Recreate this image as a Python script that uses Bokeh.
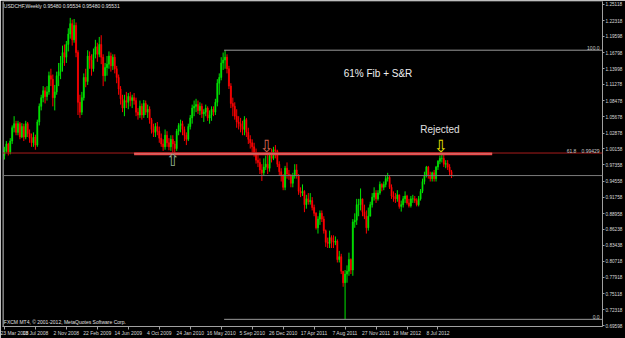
from bokeh.plotting import figure
from bokeh.models import (Range1d, LinearAxis, FixedTicker, Span, Label,
                          ColumnDataSource, NumeralTickFormatter)
from bokeh.core.properties import value
from bokeh.embed import file_html
from bokeh.resources import INLINE

# ---------------- data (USDCHF weekly, bar 0 = week of 23 Mar 2008) ----------------
header_text = "USDCHF,Weekly  0.95480 0.95534 0.95480 0.95531"
copyright_text = "FXCM MT4, \u00a9 2001-2012, MetaQuotes Software Corp."

first_open = 0.990
closes = [
    # 2008
    0.998, 1.010, 0.996, 1.015, 1.038, 1.045, 1.030, 1.045, 1.022, 1.040,
    1.022, 1.045, 1.028, 1.020, 1.012, 1.022, 1.008, 1.048, 1.075, 1.090,
    1.102, 1.092, 1.100, 1.128, 1.122, 1.090, 1.100, 1.128, 1.135, 1.150,
    1.168, 1.160, 1.182, 1.200, 1.218, 1.190, 1.215, 1.168, 1.082, 1.065,
    1.090,
    # 2009
    1.125, 1.118, 1.162, 1.155, 1.140, 1.165, 1.178, 1.165, 1.182, 1.160,
    1.128, 1.142, 1.148, 1.162, 1.145, 1.160, 1.140, 1.125, 1.105, 1.088,
    1.072, 1.085, 1.082, 1.092, 1.085, 1.090, 1.085, 1.065, 1.060, 1.075,
    1.060, 1.080, 1.065, 1.070, 1.052, 1.035, 1.030, 1.040, 1.032, 1.020,
    1.010, 1.005, 1.025, 1.012, 1.005, 1.018, 1.010, 1.002, 1.032, 1.042,
    1.045, 1.035,
    # 2010
    1.025, 1.018, 1.040, 1.055, 1.072, 1.075, 1.078, 1.068, 1.075, 1.062,
    1.065, 1.072, 1.055, 1.060, 1.070, 1.065, 1.082, 1.115, 1.125, 1.150,
    1.155, 1.160, 1.140, 1.110, 1.080, 1.075, 1.058, 1.048, 1.045, 1.040,
    1.035, 1.052, 1.030, 1.018, 1.012, 1.005, 0.995, 0.982, 0.978, 0.965,
    0.960, 0.970, 0.975, 0.968, 0.990, 0.985, 1.000, 0.998, 0.975, 0.962,
    0.955, 0.935,
    # 2011
    0.968, 0.958, 0.955, 0.942, 0.955, 0.965, 0.955, 0.928, 0.925, 0.928,
    0.905, 0.915, 0.910, 0.912, 0.900, 0.890, 0.865, 0.880, 0.890, 0.880,
    0.860, 0.840, 0.838, 0.848, 0.842, 0.840, 0.842, 0.810, 0.815, 0.790,
    0.770, 0.785, 0.790, 0.810, 0.792, 0.875, 0.878, 0.905, 0.905, 0.915,
    0.892, 0.885, 0.865, 0.885, 0.905, 0.918, 0.925, 0.915, 0.925, 0.940,
    0.935, 0.940,
    # 2012
    0.950, 0.952, 0.935, 0.920, 0.918, 0.915, 0.922, 0.902, 0.905, 0.915,
    0.920, 0.908, 0.903, 0.915, 0.915, 0.912, 0.905, 0.915, 0.928, 0.945,
    0.955, 0.970, 0.955, 0.950, 0.960, 0.950, 0.970, 0.980, 0.985, 0.985,
    0.975, 0.976, 0.970, 0.962, 0.9548, 0.95531,
]
highs = [
    # 2008
    1.005, 1.015, 1.012, 1.020, 1.042, 1.058, 1.050, 1.050, 1.048, 1.046,
    1.045, 1.050, 1.048, 1.035, 1.028, 1.030, 1.026, 1.052, 1.080, 1.095,
    1.110, 1.108, 1.110, 1.135, 1.140, 1.130, 1.112, 1.135, 1.150, 1.162,
    1.180, 1.182, 1.188, 1.210, 1.228, 1.225, 1.226, 1.220, 1.172, 1.095,
    1.100,
    # 2009
    1.132, 1.140, 1.172, 1.170, 1.165, 1.175, 1.190, 1.185, 1.195, 1.198,
    1.165, 1.150, 1.162, 1.170, 1.168, 1.165, 1.165, 1.145, 1.130, 1.110,
    1.095, 1.095, 1.100, 1.098, 1.100, 1.095, 1.098, 1.090, 1.072, 1.085,
    1.080, 1.086, 1.085, 1.078, 1.075, 1.055, 1.045, 1.046, 1.048, 1.040,
    1.028, 1.018, 1.035, 1.032, 1.020, 1.025, 1.025, 1.015, 1.036, 1.046,
    1.052, 1.050,
    # 2010
    1.040, 1.030, 1.045, 1.060, 1.078, 1.085, 1.088, 1.085, 1.082, 1.080,
    1.070, 1.078, 1.075, 1.068, 1.075, 1.075, 1.088, 1.122, 1.132, 1.160,
    1.168, 1.172, 1.165, 1.145, 1.115, 1.090, 1.082, 1.070, 1.058, 1.055,
    1.050, 1.058, 1.055, 1.038, 1.025, 1.018, 1.012, 1.002, 0.992, 0.985,
    0.975, 0.985, 0.990, 0.995, 0.995, 1.002, 1.005, 1.008, 1.000, 0.980,
    0.968, 0.958,
    # 2011
    0.972, 0.978, 0.965, 0.958, 0.960, 0.975, 0.975, 0.958, 0.935, 0.940,
    0.930, 0.922, 0.925, 0.925, 0.918, 0.905, 0.892, 0.885, 0.895, 0.895,
    0.885, 0.862, 0.848, 0.860, 0.852, 0.852, 0.850, 0.845, 0.825, 0.820,
    0.790, 0.792, 0.800, 0.822, 0.812, 0.880, 0.890, 0.915, 0.915, 0.933,
    0.915, 0.905, 0.895, 0.900, 0.910, 0.925, 0.935, 0.930, 0.930, 0.945,
    0.942, 0.945,
    # 2012
    0.955, 0.960, 0.955, 0.940, 0.928, 0.925, 0.930, 0.922, 0.912, 0.920,
    0.928, 0.922, 0.915, 0.920, 0.922, 0.920, 0.916, 0.920, 0.932, 0.950,
    0.962, 0.972, 0.972, 0.962, 0.962, 0.965, 0.972, 0.982, 0.990, 0.997,
    0.992, 0.982, 0.982, 0.975, 0.965, 0.95534,
]
lows = [
    # 2008
    0.983, 0.995, 0.990, 0.992, 1.010, 1.030, 1.025, 1.025, 1.018, 1.020,
    1.015, 1.018, 1.022, 1.012, 1.005, 1.005, 1.000, 1.005, 1.042, 1.068,
    1.082, 1.080, 1.085, 1.095, 1.110, 1.075, 1.068, 1.095, 1.110, 1.122,
    1.135, 1.145, 1.150, 1.170, 1.192, 1.180, 1.185, 1.160, 1.060, 1.055,
    1.060,
    # 2009
    1.085, 1.108, 1.112, 1.140, 1.128, 1.135, 1.158, 1.152, 1.160, 1.148,
    1.110, 1.118, 1.128, 1.140, 1.135, 1.138, 1.132, 1.115, 1.095, 1.078,
    1.065, 1.058, 1.072, 1.070, 1.075, 1.072, 1.078, 1.058, 1.052, 1.055,
    1.052, 1.055, 1.060, 1.055, 1.045, 1.028, 1.022, 1.022, 1.025, 1.012,
    1.005, 0.998, 1.000, 1.005, 0.999, 0.998, 0.992, 0.993, 0.998, 1.025,
    1.030, 1.025,
    # 2010
    1.015, 1.008, 1.015, 1.035, 1.045, 1.058, 1.065, 1.062, 1.060, 1.055,
    1.048, 1.058, 1.050, 1.045, 1.050, 1.058, 1.060, 1.075, 1.095, 1.120,
    1.138, 1.140, 1.132, 1.105, 1.072, 1.058, 1.052, 1.038, 1.035, 1.030,
    1.025, 1.025, 1.022, 1.010, 1.002, 0.995, 0.988, 0.976, 0.970, 0.958,
    0.946, 0.955, 0.965, 0.958, 0.962, 0.978, 0.982, 0.985, 0.970, 0.955,
    0.945, 0.930,
    # 2011
    0.930, 0.950, 0.948, 0.935, 0.935, 0.950, 0.950, 0.922, 0.918, 0.920,
    0.892, 0.898, 0.905, 0.905, 0.895, 0.885, 0.862, 0.855, 0.870, 0.875,
    0.855, 0.832, 0.830, 0.830, 0.830, 0.830, 0.835, 0.805, 0.805, 0.785,
    0.763, 0.707, 0.770, 0.782, 0.785, 0.782, 0.865, 0.870, 0.885, 0.895,
    0.885, 0.880, 0.855, 0.860, 0.885, 0.900, 0.912, 0.908, 0.912, 0.922,
    0.928, 0.930,
    # 2012
    0.935, 0.945, 0.932, 0.915, 0.910, 0.908, 0.910, 0.898, 0.893, 0.900,
    0.908, 0.905, 0.900, 0.900, 0.908, 0.908, 0.902, 0.902, 0.912, 0.925,
    0.940, 0.952, 0.950, 0.945, 0.945, 0.945, 0.945, 0.965, 0.975, 0.978,
    0.970, 0.968, 0.965, 0.955, 0.951, 0.9548,
]
assert len(closes) == len(highs) == len(lows)

# weekly FX bars open at the previous week's close
opens = [first_open] + closes[:-1]

date_ticks = [0, 16, 32, 48, 64, 80, 96, 112, 128, 144, 160, 176, 192, 208, 224]
date_labels = ["23 Mar 2008", "13 Jul 2008", "2 Nov 2008", "22 Feb 2009",
               "14 Jun 2009", "4 Oct 2009", "24 Jan 2010", "16 May 2010",
               "5 Sep 2010", "26 Dec 2010", "17 Apr 2011", "7 Aug 2011",
               "27 Nov 2011", "18 Mar 2012", "8 Jul 2012"]
price_ticks = [1.25118, 1.22318, 1.19598, 1.16798, 1.13998, 1.11278, 1.08478,
               1.05678, 1.02878, 1.00158, 0.97358, 0.94558, 0.91758, 0.88958,
               0.86238, 0.83438, 0.80718, 0.77918, 0.75118, 0.72318, 0.69598]

current_price = 0.95531
fib_high_bar, fib_high = 113.5, 1.1721
fib_low = 0.7067
fib_618 = 0.99429
sr_bars = [67, 252]
sr_level = 0.9932

arrow_bars = [87, 135.5, 225.5]
arrow_prices = [0.9822, 1.0061, 1.0061]
arrow_glyphs = ["\u21e7", "\u21e9", "\u21e9"]
arrow_colors = ["#8fae8f", "#d0604c", "#e8e000"]

# ---------------- figure ----------------
X_END = 309.0
p = figure(width=625, height=338,
           x_range=Range1d(-1.0, X_END), y_range=Range1d(0.6943, 1.2563),
           output_backend="svg", toolbar_location=None,
           x_axis_location=None, y_axis_location=None,
           background_fill_color="#000000", border_fill_color="#000000",
           outline_line_color=None,
           min_border_left=2, min_border_right=17, min_border_top=1,
           min_border_bottom=9)
p.xgrid.grid_line_color = None
p.ygrid.grid_line_color = None

AX = "#a0a0a0"
LBL = "#d8d8d8"
FONT = "Liberation Sans"

xaxis = LinearAxis(ticker=FixedTicker(ticks=date_ticks),
                   major_label_overrides={t: s for t, s in zip(date_ticks, date_labels)},
                   axis_line_color=AX, major_tick_line_color=AX,
                   major_tick_in=0, major_tick_out=3, minor_tick_line_color=None,
                   major_label_text_color=LBL, major_label_text_font=FONT,
                   major_label_text_font_size="5px",
                   major_label_text_align="left", major_label_standoff=0)
p.add_layout(xaxis, "below")

yaxis = LinearAxis(ticker=FixedTicker(ticks=price_ticks),
                   formatter=NumeralTickFormatter(format="0.00000"),
                   axis_line_color=AX, major_tick_line_color=AX,
                   major_tick_in=0, major_tick_out=2, minor_tick_line_color=None,
                   major_label_text_color=LBL, major_label_text_font=FONT,
                   major_label_text_font_size="4.7px", major_label_standoff=1)
p.add_layout(yaxis, "right")

# left frame line
p.add_layout(Span(location=-0.6, dimension="height", line_color=AX, line_width=1))

# candles
bull, bear = "#00e400", "#ff0000"
src = ColumnDataSource(dict(
    x=list(range(len(closes))),
    high=highs, low=lows,
    top=[max(o, c) for o, c in zip(opens, closes)],
    bottom=[min(o, c) for o, c in zip(opens, closes)],
    color=[bull if c >= o else bear for o, c in zip(opens, closes)],
))
p.segment(x0="x", y0="low", x1="x", y1="high", color="color", line_width=1, source=src)
p.vbar(x="x", width=0.55, top="top", bottom="bottom", fill_color="color",
       line_color="color", line_width=0.6, source=src)

# horizontal lines
p.add_layout(Span(location=current_price, dimension="width", line_color="#7a7a7a", line_width=1))
p.add_layout(Span(location=fib_618, dimension="width", line_color="#a81c1c", line_width=1))
p.line(x=sr_bars, y=[sr_level, sr_level], line_color="#e83a3a", line_width=3)
p.line(x=sr_bars, y=[sr_level, sr_level], line_color="#ffc8c8", line_width=1)
p.line(x=[fib_high_bar, X_END], y=[fib_high, fib_high], line_color="#9a9a9a", line_width=1)
p.line(x=[fib_high_bar, X_END], y=[fib_low, fib_low], line_color="#9a9a9a", line_width=1)

# fib level labels
small = dict(text_font=FONT, text_font_size="5px", text_color="#c8c8c8")
p.add_layout(Label(x=307.5, y=fib_high, text="100.0", text_align="right",
                   text_baseline="bottom", **small))
p.add_layout(Label(x=295.5, y=fib_618, text="61.8", text_align="right",
                   text_baseline="bottom", **small))
p.add_layout(Label(x=307.5, y=fib_618, text="0.99429", text_align="right",
                   text_baseline="bottom", **small))
p.add_layout(Label(x=307.5, y=fib_low, text="0.0", text_align="right",
                   text_baseline="bottom", **small))

# price boxes on the axis
p.add_layout(Label(x=310.6, y=fib_618, text="0.99429", text_align="left",
                   text_baseline="middle", text_font=FONT, text_font_size="4.7px",
                   text_color="#ffffff", background_fill_color="#e00000"))
p.add_layout(Label(x=310.6, y=current_price, text="0.95531", text_align="left",
                   text_baseline="middle", text_font=FONT, text_font_size="4.7px",
                   text_color="#000000", background_fill_color="#ffffff"))

# header and footer texts
p.add_layout(Label(x=-0.3, y=1.2540, text=header_text, text_align="left",
                   text_baseline="top", text_font=FONT, text_font_size="5px",
                   text_color="#e0e0e0"))
p.add_layout(Label(x=-0.3, y=0.6976, text=copyright_text, text_align="left",
                   text_baseline="bottom", text_font=FONT, text_font_size="5px",
                   text_color="#e0e0e0"))

# annotations
p.add_layout(Label(x=193, y=1.131, text="61% Fib + S&R", text_align="center",
                   text_baseline="middle", text_font=FONT, text_font_size="10px",
                   text_color="#f0f0f0"))
p.add_layout(Label(x=225, y=1.0353, text="Rejected", text_align="center",
                   text_baseline="middle", text_font=FONT, text_font_size="10px",
                   text_color="#e0e0e0"))

p.text(x=arrow_bars, y=arrow_prices, text=arrow_glyphs, text_color=arrow_colors,
       text_font=value("DejaVu Sans"), text_font_size="17px",
       text_align="center", text_baseline="middle")

open("out.html", "w").write(file_html(p, INLINE))
